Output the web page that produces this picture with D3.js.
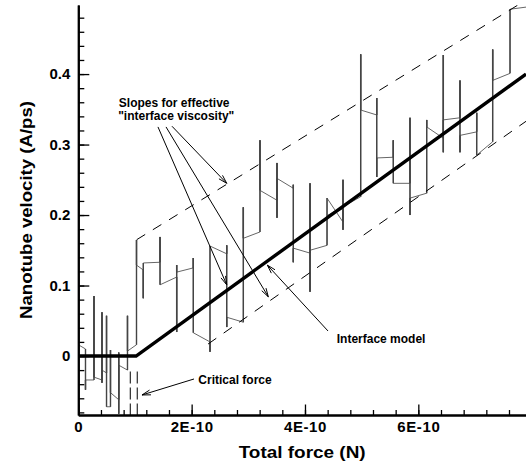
<!DOCTYPE html>
<html>
<head>
<meta charset="utf-8">
<script src="https://cdn.jsdelivr.net/npm/d3@7"></script>
<style>
  html, body { margin: 0; padding: 0; background: #fff; }
  svg { display: block; font-family: 'Liberation Sans', Arial, sans-serif; font-weight: bold; }
</style>
</head>
<body>
<svg width="526" height="470"></svg>
<script>
;(function (d3) {
  var svg = d3.select('svg')

  var width = 526
  var height = 470
  var margin = {top: 5, right: 0, bottom: 55, left: 78.3}

  // simulated trace: [force (1E-10 N), velocity (A/ps)]
  var trace = [
    [0, 0.016],
    [0.127, 0.010], [0.127, -0.048], [0.127, -0.034],
    [0.277, -0.034], [0.277, 0.085], [0.277, -0.030],
    [0.418, -0.034], [0.418, 0.062], [0.418, -0.038], [0.418, -0.020],
    [0.498, -0.024], [0.498, 0.057], [0.498, -0.072],
    [0.568, -0.072], [0.568, 0.0085], [0.568, -0.052],
    [0.713, -0.062], [0.713, 0.005], [0.713, -0.082], [0.713, -0.013],
    [0.868, -0.020], [0.868, 0.057], [0.868, 0.007],
    [1.027, 0.016], [1.027, 0.1645], [1.027, 0.129],
    [1.147, 0.122], [1.147, 0.082], [1.147, 0.132],
    [1.442, 0.133], [1.442, 0.169], [1.442, 0.101],
    [1.736, 0.112], [1.736, 0.034], [1.736, 0.129], [1.736, 0.119],
    [2.029, 0.125], [2.029, 0.139], [2.029, 0.033],
    [2.324, 0.020], [2.324, 0.006], [2.324, 0.156],
    [2.619, 0.145], [2.619, 0.157], [2.619, 0.041], [2.619, 0.055],
    [2.912, 0.048], [2.912, 0.211], [2.912, 0.167],
    [3.206, 0.176], [3.206, 0.306], [3.206, 0.235],
    [3.506, 0.221], [3.506, 0.274], [3.506, 0.196], [3.506, 0.252],
    [3.794, 0.238], [3.794, 0.243], [3.794, 0.133], [3.794, 0.153],
    [4.089, 0.146], [4.089, 0.245], [4.089, 0.091], [4.089, 0.150],
    [4.389, 0.157], [4.389, 0.224],
    [4.671, 0.190], [4.671, 0.250], [4.671, 0.179], [4.671, 0.209],
    [4.389, 0.199],
    [4.983, 0.226], [4.983, 0.428], [4.983, 0.349],
    [5.266, 0.342], [5.266, 0.366], [5.266, 0.254], [5.266, 0.281],
    [5.558, 0.282], [5.558, 0.306], [5.558, 0.245],
    [5.853, 0.245], [5.853, 0.338], [5.853, 0.200], [5.853, 0.224],
    [6.148, 0.231], [6.148, 0.335], [6.148, 0.325],
    [6.441, 0.309], [6.441, 0.427], [6.441, 0.289], [6.441, 0.335],
    [6.735, 0.338], [6.735, 0.391], [6.735, 0.289], [6.735, 0.313],
    [7.030, 0.318], [7.030, 0.345], [7.030, 0.285],
    [7.312, 0.304], [7.312, 0.435], [7.312, 0.391],
    [7.618, 0.401], [7.618, 0.492],
    [7.900, 0.495]
  ]

  var modelLine = [[0, 0], [1.02, 0], [7.9, 0.40]]
  var upperSlope = [[1.03, 0.165], [7.9, 0.505]]
  var lowerSlope = [[2.29, 0.017], [7.9, 0.333]]
  var criticalForce = [0.917, 1.04]
  var criticalRange = [-0.022, -0.0837]

  var xTickValues = [0, 2, 4, 6]
  var xTickLabels = ['0', '2E-10', '4E-10', '6E-10']
  var yTickValues = [0, 0.1, 0.2, 0.3, 0.4]
  var yTickLabels = ['0', '0.1', '0.2', '0.3', '0.4']

  var arrows = [
    [[1.406, 0.325], [2.619, 0.101]],
    [[1.548, 0.325], [3.353, 0.084]],
    [[1.653, 0.326], [2.619, 0.245]],
    [[4.406, 0.0355], [3.335, 0.129]],
    [[2.042, -0.0326], [1.124, -0.0553]]
  ]
  var labels = [
    {text: 'Slopes for effective', at: [1.692, 0.3535], anchor: 'middle'},
    {text: '"interface viscosity"', at: [1.728, 0.3345], anchor: 'middle'},
    {text: 'Interface model', at: [4.56, 0.019], anchor: 'start'},
    {text: 'Critical force', at: [2.118, -0.040], anchor: 'start'}
  ]

  var x = d3.scaleLinear()
    .domain([0, 7.9])
    .range([margin.left, width - margin.right])

  var y = d3.scaleLinear()
    .domain([-0.0837, 0.498])
    .range([height - margin.bottom, margin.top])

  svg.append('clipPath')
    .attr('id', 'plot')
    .append('rect')
    .attr('x', x(0))
    .attr('y', y(0.498))
    .attr('width', x(7.9) - x(0))
    .attr('height', y(-0.0837) - y(0.498))

  var plot = svg.append('g').attr('clip-path', 'url(#plot)')

  var ln = d3.line()
    .x(function (d) { return x(d[0]) })
    .y(function (d) { return y(d[1]) })

  // noisy trace
  plot.append('path')
    .attr('d', ln(trace))
    .style('fill', 'none')
    .style('stroke', '#666')
    .style('stroke-width', 1)

  var verticals = []
  trace.forEach(function (d, i) {
    if (i > 0 && trace[i - 1][0] === d[0]) verticals.push([trace[i - 1], d])
  })
  plot.selectAll('.vert')
    .data(verticals)
    .enter()
    .append('path')
    .attr('class', 'vert')
    .attr('d', ln)
    .style('fill', 'none')
    .style('stroke', '#444')
    .style('stroke-width', 1.4)

  // dashed slope lines
  plot.selectAll('.slope')
    .data([upperSlope, lowerSlope])
    .enter()
    .append('path')
    .attr('class', 'slope')
    .attr('d', ln)
    .style('fill', 'none')
    .style('stroke', '#000')
    .style('stroke-width', 1)
    .style('stroke-dasharray', '10,9')

  plot.selectAll('.crit')
    .data(criticalForce)
    .enter()
    .append('line')
    .attr('class', 'crit')
    .attr('x1', function (d) { return x(d) })
    .attr('x2', function (d) { return x(d) })
    .attr('y1', y(criticalRange[0]))
    .attr('y2', y(criticalRange[1]))
    .style('stroke', '#000')
    .style('stroke-width', 1)
    .style('stroke-dasharray', '12,4')

  // interface model
  plot.append('path')
    .attr('d', ln(modelLine))
    .style('fill', 'none')
    .style('stroke', '#000')
    .style('stroke-width', 3.4)

  // axes
  var yAxis = svg.append('g')
    .attr('transform', 'translate(' + x(0) + ',0)')
    .call(d3.axisLeft(y).tickValues(yTickValues).tickSizeInner(-11).tickSizeOuter(0).tickPadding(8)
      .tickFormat(function (d, i) { return yTickLabels[i] }))
  var yMinor = svg.append('g')
    .attr('transform', 'translate(' + x(0) + ',0)')
    .call(d3.axisLeft(y).tickValues(d3.range(-8, 50, 2).map(function (d) { return d / 100 }))
      .tickSizeInner(-6).tickSizeOuter(0).tickFormat(''))

  var xAxis = svg.append('g')
    .attr('transform', 'translate(0,' + y(-0.0837) + ')')
    .call(d3.axisBottom(x).tickValues(xTickValues).tickSizeInner(-10.5).tickSizeOuter(0).tickPadding(6.5)
      .tickFormat(function (d, i) { return xTickLabels[i] }))
  var xMinor = svg.append('g')
    .attr('transform', 'translate(0,' + y(-0.0837) + ')')
    .call(d3.axisBottom(x).tickValues(d3.range(0, 20).map(function (d) { return d * 0.4 }))
      .tickSizeInner(-5).tickSizeOuter(0).tickFormat(''))

  svg.selectAll('.domain').style('stroke', '#000').style('stroke-width', 2)
  svg.selectAll('.tick line').style('stroke', '#000').style('stroke-width', 1.3)
  svg.selectAll('.tick text')
    .style('font-family', "'Liberation Sans', Arial, sans-serif")
    .style('font-weight', 'bold')
    .style('font-size', '15px')
    .style('fill', '#000')
  xAxis.selectAll('.tick text').style('letter-spacing', '0.6px')

  // titles
  svg.append('text')
    .attr('x', (x(0) + x(7.9)) / 2)
    .attr('y', 458)
    .attr('text-anchor', 'middle')
    .attr('textLength', 127)
    .attr('lengthAdjust', 'spacingAndGlyphs')
    .style('font-size', '17px')
    .text('Total force (N)')

  svg.append('text')
    .attr('transform', 'translate(31.5,' + (y(0.498) + y(-0.0837)) / 2 + ') rotate(-90)')
    .attr('text-anchor', 'middle')
    .attr('textLength', 218)
    .attr('lengthAdjust', 'spacingAndGlyphs')
    .style('font-size', '17px')
    .text('Nanotube velocity (A/ps)')

  // annotations
  var annot = svg.append('g')
  arrows.forEach(function (a) {
    var x1 = x(a[0][0])
    var y1 = y(a[0][1])
    var x2 = x(a[1][0])
    var y2 = y(a[1][1])
    var ang = Math.atan2(y2 - y1, x2 - x1)
    var len = 9
    var spread = 0.28
    var p = d3.path()
    p.moveTo(x1, y1)
    p.lineTo(x2, y2)
    p.moveTo(x2 - len * Math.cos(ang - spread), y2 - len * Math.sin(ang - spread))
    p.lineTo(x2, y2)
    p.lineTo(x2 - len * Math.cos(ang + spread), y2 - len * Math.sin(ang + spread))
    annot.append('path')
      .attr('d', p.toString())
      .style('fill', 'none')
      .style('stroke', '#000')
      .style('stroke-width', 1)
  })

  annot.selectAll('text')
    .data(labels)
    .enter()
    .append('text')
    .attr('x', function (d) { return x(d.at[0]) })
    .attr('y', function (d) { return y(d.at[1]) })
    .attr('text-anchor', function (d) { return d.anchor })
    .style('font-size', '12px')
    .text(function (d) { return d.text })
})(window.d3)
</script>
</body>
</html>
